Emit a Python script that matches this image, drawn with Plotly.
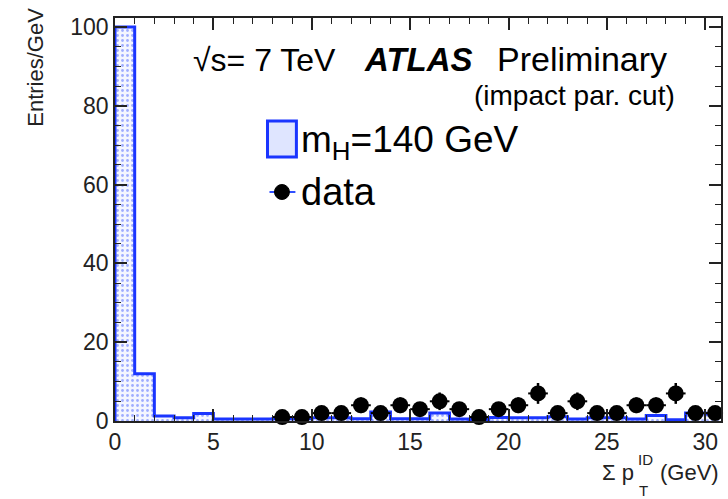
import plotly.graph_objects as go

# ---------------- data ----------------
bin_centers = [0.5, 1.5, 2.5, 3.5, 4.5, 5.5, 6.5, 7.5, 8.5, 9.5, 10.5, 11.5, 12.5, 13.5, 14.5,
               15.5, 16.5, 17.5, 18.5, 19.5, 20.5, 21.5, 22.5, 23.5, 24.5, 25.5, 26.5, 27.5,
               28.5, 29.5, 30.5]
bin_low_edges = [0, 1, 2, 3, 4, 5, 6, 7, 8, 9, 10, 11, 12, 13, 14, 15, 16, 17, 18, 19, 20,
                 21, 22, 23, 24, 25, 26, 27, 28, 29, 30, 31]
signal_mh140 = [100, 12, 1.3, 0.8, 1.9, 0.5, 0.5, 0.5, 0.6, 0.6, 0.8, 0.8, 0.6, 2.3, 0.6,
                0.6, 2.0, 0.5, 0.4, 0.9, 0.8, 0.8, 1.1, 0.5, 0.8, 0.8, 0.5, 1.4, 0.3, 2.0, 1.8]

data_x = [8.5, 9.5, 10.5, 11.5, 12.5, 13.5, 14.5, 15.5, 16.5, 17.5, 18.5, 19.5, 20.5,
          21.5, 22.5, 23.5, 24.5, 25.5, 26.5, 27.5, 28.5, 29.5, 30.5]
data_y = [1, 1, 2, 2, 4, 2, 4, 3, 5, 3, 1, 3, 4, 7, 2, 5, 2, 2, 4, 4, 7, 2, 2]
data_err = [v ** 0.5 for v in data_y]

x_ticks = [0, 5, 10, 15, 20, 25, 30]
y_ticks = [0, 20, 40, 60, 80, 100]

BLUE = "#1a35ff"
FONT = "Liberation Sans, Arial, sans-serif"

# geometry (pixels) of plot area
W, H = 728, 499
ML, MR, MT, MB = 115, 5, 18, 78
PW, PH = W - ML - MR, H - MT - MB


def px(xp):
    return (xp - ML) / PW


def py(yp):
    return (H - MB - yp) / PH


fig = go.Figure()

# filled histogram (pattern fill)
fig.add_trace(go.Bar(
    x=bin_centers, y=signal_mh140, width=1,
    marker=dict(color="#e8edff", line=dict(width=0),
                pattern=dict(shape=".", fgcolor="#4a63ff", bgcolor="#f4f6ff",
                             size=5, solidity=0.25)),
    showlegend=False, hoverinfo="skip"))

# histogram outline as a step line
step_y = [0] + signal_mh140 + [signal_mh140[-1]]
step_x = [0] + bin_low_edges
fig.add_trace(go.Scatter(
    x=step_x, y=step_y[:len(step_x)], mode="lines",
    line=dict(shape="hv", color=BLUE, width=3),
    showlegend=False, hoverinfo="skip"))

# data points
fig.add_trace(go.Scatter(
    x=data_x, y=data_y, mode="markers",
    marker=dict(color="black", size=16, symbol="circle"),
    error_y=dict(type="data", array=data_err, color="black", thickness=2.5, width=0),
    error_x=dict(type="constant", value=0.5, color="black", thickness=2, width=0),
    showlegend=False, cliponaxis=False))

axis_common = dict(
    showline=True, linecolor="#222", linewidth=1.5, mirror="allticks",
    ticks="inside", ticklen=12, tickwidth=1.5, tickcolor="#222",
    showgrid=False, zeroline=False,
    tickfont=dict(family=FONT, size=23, color="#222"),
)

fig.update_layout(
    width=W, height=H,
    margin=dict(l=ML, r=MR, t=MT, b=MB),
    plot_bgcolor="white", paper_bgcolor="white",
    bargap=0, showlegend=False,
    xaxis=dict(range=[0, 30.8], tickvals=x_ticks,
               minor=dict(dtick=1, ticks="inside", ticklen=6, tickwidth=1, tickcolor="#222"),
               **axis_common),
    yaxis=dict(range=[0, 102.3], tickvals=y_ticks,
               minor=dict(dtick=5, ticks="inside", ticklen=6, tickwidth=1, tickcolor="#222"),
               **axis_common),
)

annotations = [
    dict(text="√s= 7 TeV", x=px(191), y=py(60), xanchor="left", yanchor="middle",
         font=dict(size=32, color="black", family=FONT)),
    dict(text="<b><i>ATLAS</i></b>", x=px(363), y=py(60), xanchor="left", yanchor="middle",
         font=dict(size=33, color="black", family=FONT)),
    dict(text="Preliminary", x=px(496), y=py(59), xanchor="left", yanchor="middle",
         font=dict(size=34, color="black", family=FONT)),
    dict(text="(impact par. cut)", x=px(679), y=py(95), xanchor="right", yanchor="middle",
         font=dict(size=28, color="black", family=FONT)),
    dict(text="m<sub>H</sub>=140 GeV", x=px(300), y=py(142), xanchor="left", yanchor="middle",
         font=dict(size=37, color="black", family=FONT)),
    dict(text="data", x=px(300), y=py(192), xanchor="left", yanchor="middle",
         font=dict(size=38, color="black", family=FONT)),
    # y-axis title
    dict(text="Entries/GeV", x=px(35), y=py(6), xanchor="center", yanchor="top",
         textangle=-90, font=dict(size=22, color="#222", family=FONT)),
    # x-axis title pieces
    dict(text="Σ p", x=px(638), y=py(472), xanchor="right", yanchor="middle",
         font=dict(size=22, color="#222", family=FONT)),
    dict(text="ID", x=px(638), y=py(460), xanchor="left", yanchor="middle",
         font=dict(size=15, color="#222", family=FONT)),
    dict(text="T", x=px(639), y=py(490), xanchor="left", yanchor="middle",
         font=dict(size=15, color="#222", family=FONT)),
    dict(text="(GeV)", x=px(723), y=py(472), xanchor="right", yanchor="middle",
         font=dict(size=22, color="#222", family=FONT)),
]
for a in annotations:
    a.update(xref="paper", yref="paper", showarrow=False)
fig.update_layout(annotations=annotations)

shapes = [
    # legend box for histogram
    dict(type="rect", xref="paper", yref="paper",
         x0=px(268), x1=px(297), y0=py(157), y1=py(121),
         fillcolor="#dfe5ff", line=dict(color=BLUE, width=3)),
    # legend line + marker for data
    dict(type="line", xref="paper", yref="paper",
         x0=px(270), x1=px(296), y0=py(192), y1=py(192),
         line=dict(color="#3050ff", width=2)),
    dict(type="circle", xref="paper", yref="paper",
         x0=px(275), x1=px(290), y0=py(199.5), y1=py(184.5),
         fillcolor="black", line=dict(color="black", width=1)),
]
fig.update_layout(shapes=shapes)

fig.write_html("out.html")
